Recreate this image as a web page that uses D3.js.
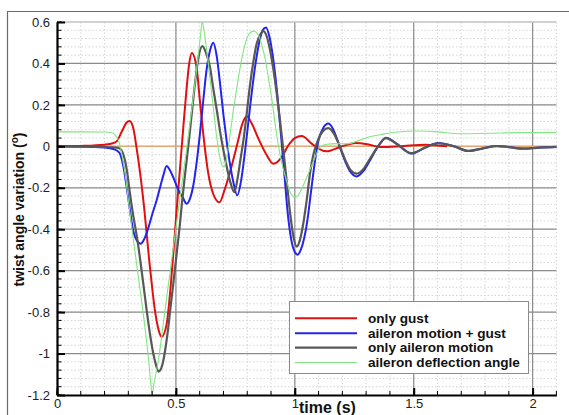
<!DOCTYPE html>
<html><head><meta charset="utf-8">
<script src="https://cdn.jsdelivr.net/npm/d3@7"></script>
<style>body{margin:0;background:#fff}svg{display:block}</style>
</head><body>
<script>
// ---------- data ----------
const xTicks = [0, 0.5, 1, 1.5, 2];
const xTickLabels = ["0", "0.5", "1", "1.5", "2"];
const yTicks = [0.6, 0.4, 0.2, 0, -0.2, -0.4, -0.6, -0.8, -1, -1.2];
const yTickLabels = ["0.6", "0.4", "0.2", "0", "-0.2", "-0.4", "-0.6", "-0.8", "-1", "-1.2"];
const seriesNames = ["only gust", "aileron motion + gust", "only aileron motion", "aileron deflection angle"];

const gustT = [0,0.1,0.2,0.235,0.251,0.272,0.293,0.305,0.321,0.335,0.349,0.363,0.391,0.412,0.428,0.44,0.461,0.475,0.489,0.503,0.517,0.531,0.545,0.556,0.567,0.587,0.600,0.615,0.636,0.657,0.683,0.706,0.735,0.762,0.777,0.798,0.819,0.847,0.875,0.91,0.945,0.973,1.0,1.029,1.071,1.099,1.134,1.19,1.256,1.31,1.36,1.44,1.55,1.64];
const gustV = [0,0.002,0.008,0.015,0.024,0.07,0.115,0.122,0.086,-0.011,-0.124,-0.26,-0.584,-0.793,-0.89,-0.92,-0.858,-0.713,-0.52,-0.31,-0.11,0.09,0.28,0.40,0.451,0.38,0.23,0.06,-0.13,-0.23,-0.27,-0.205,-0.092,0.03,0.10,0.145,0.11,0.037,-0.028,-0.084,-0.052,0.005,0.04,0.05,0.013,-0.011,-0.024,-0.003,0.016,0.009,-0.003,0.0,0.008,0.0];

const bothT = [0,0.1,0.2,0.24,0.262,0.278,0.293,0.307,0.321,0.336,0.352,0.368,0.385,0.40,0.419,0.433,0.447,0.461,0.475,0.489,0.51,0.528,0.545,0.56,0.573,0.587,0.601,0.615,0.629,0.643,0.657,0.671,0.685,0.70,0.714,0.728,0.741,0.758,0.775,0.79,0.805,0.82,0.835,0.85,0.865,0.879,0.893,0.907,0.92,0.933,0.946,0.958,0.97,0.985,1.0,1.012,1.025,1.04,1.055,1.068,1.085,1.1,1.12,1.141,1.16,1.176,1.19,1.204,1.232,1.26,1.288,1.316,1.35,1.383,1.43,1.49,1.55,1.603,1.67,1.73,1.79,1.849,1.9,1.96,2.03,2.1];
const bothV = [0,-0.001,-0.006,-0.014,-0.03,-0.09,-0.197,-0.31,-0.41,-0.455,-0.47,-0.445,-0.39,-0.33,-0.26,-0.20,-0.14,-0.095,-0.115,-0.15,-0.21,-0.245,-0.277,-0.25,-0.19,-0.08,0.06,0.22,0.37,0.46,0.50,0.44,0.31,0.15,0.02,-0.09,-0.17,-0.237,-0.16,-0.03,0.12,0.27,0.40,0.50,0.56,0.574,0.53,0.44,0.32,0.17,0.0,-0.16,-0.32,-0.45,-0.51,-0.523,-0.50,-0.44,-0.34,-0.22,-0.07,0.03,0.09,0.11,0.085,0.04,-0.005,-0.05,-0.12,-0.145,-0.12,-0.068,0.0,0.042,0.012,-0.035,-0.005,0.016,0.0,-0.023,-0.01,0.002,-0.003,-0.011,-0.006,-0.003];

const ailT = [0,0.1,0.2,0.25,0.265,0.276,0.286,0.297,0.307,0.32,0.335,0.349,0.363,0.377,0.391,0.405,0.415,0.427,0.437,0.447,0.458,0.468,0.478,0.489,0.503,0.517,0.524,0.538,0.552,0.566,0.58,0.595,0.611,0.627,0.643,0.657,0.672,0.686,0.70,0.714,0.727,0.746,0.76,0.772,0.784,0.798,0.812,0.826,0.84,0.855,0.868,0.882,0.896,0.91,0.924,0.938,0.952,0.966,0.98,0.995,1.008,1.022,1.036,1.05,1.064,1.078,1.092,1.11,1.141,1.165,1.19,1.21,1.235,1.26,1.288,1.316,1.35,1.383,1.43,1.49,1.55,1.603,1.67,1.73,1.79,1.849,1.9,1.96,2.03,2.1];
const ailV = [0,-0.001,-0.003,-0.006,-0.011,-0.03,-0.068,-0.14,-0.23,-0.33,-0.43,-0.54,-0.664,-0.79,-0.906,-1.0,-1.05,-1.087,-1.075,-1.035,-0.96,-0.874,-0.77,-0.664,-0.52,-0.374,-0.29,-0.14,0.0,0.15,0.30,0.43,0.484,0.45,0.384,0.28,0.174,0.07,-0.02,-0.10,-0.165,-0.221,-0.15,-0.06,0.03,0.16,0.30,0.41,0.497,0.54,0.556,0.53,0.464,0.37,0.255,0.12,-0.02,-0.17,-0.32,-0.44,-0.484,-0.45,-0.37,-0.26,-0.13,-0.04,0.013,0.06,0.088,0.06,-0.003,-0.06,-0.115,-0.132,-0.11,-0.06,0.0,0.04,0.01,-0.033,-0.005,0.015,0.0,-0.022,-0.01,0.001,-0.004,-0.011,-0.006,-0.003];

const deflT = [0,0.1,0.2,0.225,0.238,0.25,0.258,0.265,0.276,0.286,0.3,0.32,0.342,0.356,0.37,0.385,0.395,0.40,0.407,0.426,0.44,0.454,0.468,0.482,0.496,0.51,0.53,0.55,0.57,0.59,0.603,0.611,0.618,0.63,0.643,0.657,0.672,0.686,0.70,0.713,0.727,0.741,0.756,0.77,0.783,0.805,0.826,0.847,0.861,0.875,0.889,0.903,0.917,0.931,0.945,0.959,0.98,1.001,1.015,1.029,1.05,1.071,1.09,1.106,1.134,1.176,1.218,1.274,1.31,1.358,1.42,1.526,1.6,1.695,1.78,1.863,1.95,2.1];
const deflV = [0.07,0.07,0.069,0.067,0.062,0.045,0.03,0.005,-0.06,-0.13,-0.26,-0.44,-0.63,-0.75,-0.874,-1.03,-1.15,-1.2,-1.15,-1.035,-0.92,-0.793,-0.67,-0.55,-0.43,-0.31,-0.14,0.03,0.21,0.40,0.53,0.6,0.56,0.46,0.33,0.19,0.04,-0.06,-0.10,-0.06,0.05,0.17,0.28,0.38,0.456,0.537,0.556,0.537,0.49,0.424,0.33,0.23,0.11,0.005,-0.08,-0.14,-0.22,-0.245,-0.235,-0.205,-0.15,-0.092,-0.04,-0.003,0.01,0.013,0.012,0.03,0.045,0.056,0.068,0.074,0.07,0.061,0.062,0.064,0.066,0.066];

const zeroT = [0, 2.1];
const zeroV = [0, 0];

// ---------- layout ----------
const W = 569, H = 415;
const L = 57, R = 556.4, T = 22, B = 395;
const FONT = "'Liberation Sans', Arial, Helvetica, sans-serif";

const svg = d3.select("body").append("svg").attr("width", W).attr("height", H)
  .style("font-family", FONT);

const x = d3.scaleLinear().domain([0, 2.1]).range([L, R]);
const y = d3.scaleLinear().domain([-1.2, 0.6]).range([B, T]);

// outer frame (top + left)
svg.append("line").attr("x1", 7).attr("x2", 569).attr("y1", 11.5).attr("y2", 11.5).attr("stroke", "#6a6a6a").attr("stroke-width", 1.2);
svg.append("line").attr("x1", 7.5).attr("x2", 7.5).attr("y1", 11.5).attr("y2", H).attr("stroke", "#6a6a6a").attr("stroke-width", 1.2);

// minor grid
const xMinor = d3.range(0, 21.5).map(i => i / 10).filter(v => v <= 2.1001);
const yMinor = d3.range(0, 46).map(i => -1.2 + i * 0.04).filter(v => v <= 0.6001);
const g = svg.append("g");
g.selectAll(".xm").data(xMinor).join("line")
  .attr("x1", d => x(d)).attr("x2", d => x(d)).attr("y1", T).attr("y2", B)
  .attr("stroke", "#d4d4d4").attr("stroke-dasharray", "1.5,2");
g.selectAll(".ym").data(yMinor).join("line")
  .attr("x1", L).attr("x2", R).attr("y1", d => y(d)).attr("y2", d => y(d))
  .attr("stroke", "#d4d4d4").attr("stroke-dasharray", "1.5,2");
// major grid
g.selectAll(".xM").data(xTicks.filter(d => d > 0)).join("line")
  .attr("x1", d => x(d)).attr("x2", d => x(d)).attr("y1", T).attr("y2", B)
  .attr("stroke", "#8c8c8c").attr("stroke-width", 1.2);
g.selectAll(".yM").data(yTicks.filter(d => d > -1.2 && d < 0.6)).join("line")
  .attr("x1", L).attr("x2", R).attr("y1", d => y(d)).attr("y2", d => y(d))
  .attr("stroke", "#8c8c8c").attr("stroke-width", 1.2);
// top & right border
svg.append("line").attr("x1", L).attr("x2", R).attr("y1", T).attr("y2", T).attr("stroke", "#c4c4c4").attr("stroke-width", 1.5);

// series
const lineGen = d3.line().x(d => x(d[0])).y(d => y(d[1])).curve(d3.curveMonotoneX);
const zip = (a, b) => a.map((t, i) => [t, b[i]]);
const series = [
  {t: zeroT, v: zeroV, color: "#e3a878", w: 1.2},
  {t: gustT, v: gustV, color: "#e01010", w: 2},
  {t: bothT, v: bothV, color: "#2424f0", w: 2},
  {t: ailT, v: ailV, color: "#585858", w: 2.2},
  {t: deflT, v: deflV, color: "#82e682", w: 1.1}
];
const plot = svg.append("g");
series.forEach(s => {
  plot.append("path").datum(zip(s.t, s.v)).attr("d", lineGen)
    .attr("fill", "none").attr("stroke", s.color).attr("stroke-width", s.w)
    .attr("stroke-linejoin", "round");
});

// minor ticks
svg.append("g").selectAll("line").data(yMinor).join("line")
  .attr("x1", L).attr("x2", L + 4.5).attr("y1", d => y(d)).attr("y2", d => y(d))
  .attr("stroke", "#000").attr("stroke-width", 1);
svg.append("g").selectAll("line").data(xMinor).join("line")
  .attr("x1", d => x(d)).attr("x2", d => x(d)).attr("y1", B).attr("y2", B - 4)
  .attr("stroke", "#000").attr("stroke-width", 1);

// axes
const yAxis = d3.axisLeft(y).tickValues(yTicks).tickFormat((d, i) => yTickLabels[i])
  .tickSizeInner(-8).tickSizeOuter(0).tickPadding(7);
const ya = svg.append("g").attr("transform", `translate(${L},0)`).call(yAxis);
const xAxis = d3.axisBottom(x).tickValues(xTicks).tickFormat((d, i) => xTickLabels[i])
  .tickSizeInner(-7).tickSizeOuter(0).tickPadding(4);
const xa = svg.append("g").attr("transform", `translate(0,${B})`).call(xAxis);
[ya, xa].forEach(a => {
  a.select(".domain").attr("stroke", "#000").attr("stroke-width", 2.2);
  a.selectAll(".tick line").attr("stroke", "#000").attr("stroke-width", 2);
  a.selectAll(".tick text").attr("font-size", 13).attr("fill", "#222").style("font-family", FONT);
});

// axis titles
const yl = svg.append("text").attr("transform", `translate(24,${(T + B) / 2 + 1}) rotate(-90)`)
  .attr("text-anchor", "middle").attr("font-weight", "bold").attr("font-size", 14).attr("fill", "#111");
yl.append("tspan").text("twist angle variation (");
yl.append("tspan").text("o").attr("font-size", 10).attr("dy", -6);
yl.append("tspan").text(")").attr("dy", 6);

svg.append("text").attr("x", 299).attr("y", 413).attr("font-weight", "bold").attr("font-size", 16)
  .attr("fill", "#111").text("time (s)");

// legend
const lg = svg.append("g");
lg.append("rect").attr("x", 289.5).attr("y", 301.5).attr("width", 239).attr("height", 72)
  .attr("fill", "#fff").attr("stroke", "#8a8a8a").attr("stroke-width", 1);
const rowsY = [318.3, 333.2, 347.7, 362.5];
seriesNames.forEach((n, i) => {
  const s = series[i + 1];
  lg.append("line").attr("x1", 295).attr("x2", 357).attr("y1", rowsY[i]).attr("y2", rowsY[i])
    .attr("stroke", s.color).attr("stroke-width", s.w);
  lg.append("text").attr("x", 368).attr("y", rowsY[i] + 4.6).attr("font-weight", "bold")
    .attr("font-size", 13.6).attr("fill", "#111").text(n);
});
</script>
</body></html>
